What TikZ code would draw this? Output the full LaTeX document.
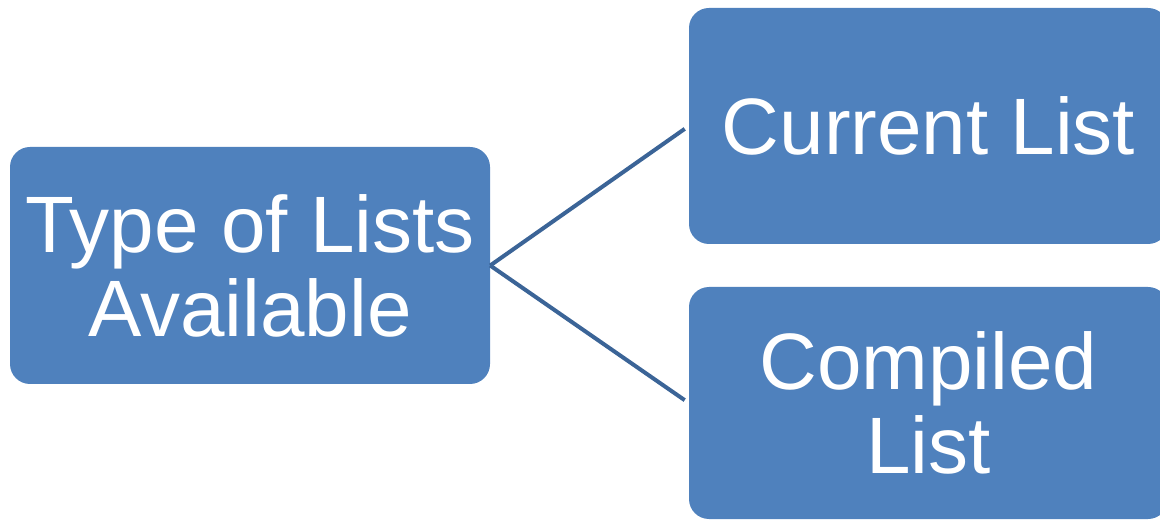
\documentclass[tikz,border=0pt]{standalone}
\usepackage{fontspec}
\setmainfont{Liberation Sans}
\definecolor{boxblue}{HTML}{4F81BD}
\definecolor{lineblue}{HTML}{3B6497}
\begin{document}
\begin{tikzpicture}[x=1pt,y=1pt,
  listbox/.style={fill=boxblue, draw=none, rounded corners=20pt, text=white,
    align=center, inner sep=0pt, font=\fontsize{80}{84}\selectfont},
  link/.style={draw=lineblue, line width=4pt}]
\clip (0,0) rectangle (1160,520);
\useasboundingbox (0,0) rectangle (1160,520);
\node[listbox, minimum width=480pt, minimum height=237pt] (L) at (250,254.5) {Type of Lists\\Available};
\node[listbox, minimum width=479pt, minimum height=236pt] (A) at (928.5,394) {Current List};
\node[listbox, minimum width=479pt, minimum height=232pt] (B) at (928.5,117) {Compiled\\List};
\draw[link, shorten >=5pt] (L.east) -- (A.west);
\draw[link, shorten >=5pt] (L.east) -- (B.west);
\end{tikzpicture}
\end{document}
